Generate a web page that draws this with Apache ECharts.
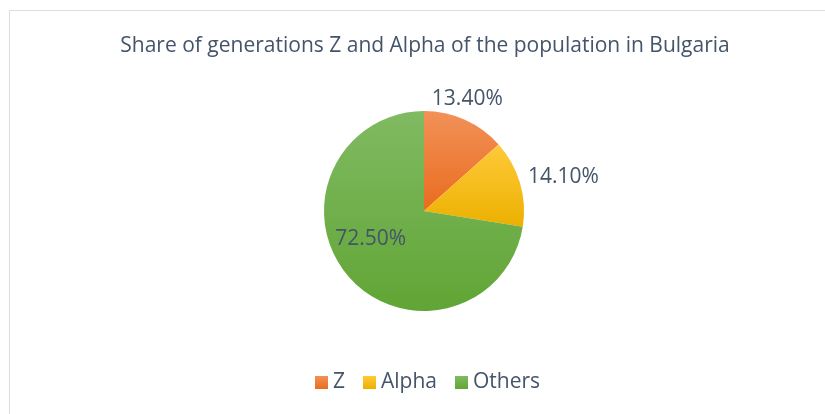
<!DOCTYPE html>
<html>
<head>
<meta charset="utf-8">
<script src="https://cdn.jsdelivr.net/npm/echarts@6/dist/echarts.min.js"></script>
<style>html,body{margin:0;padding:0;background:#fff}#c{width:825px;height:414px}</style>
</head>
<body>
<div id="c"></div>
<script>
const titleText = "Share of generations Z and Alpha of the population in Bulgaria";
const categories = ["Z", "Alpha", "Others"];
const values = [13.4, 14.1, 72.5];
const labelTexts = ["13.40%", "14.10%", "72.50%"];
const topColors = ["#F29158", "#FFCA3A", "#80BA62"];
const bottomColors = ["#E96C1F", "#ECB000", "#61A535"];

const FONT = "'Open Sans', sans-serif";
const TXT = "#44546A";

const chart = echarts.init(document.getElementById('c'), null, {renderer: 'canvas'});
const data = categories.map((n, i) => ({
  name: n,
  value: values[i],
  itemStyle: {
    color: new echarts.graphic.LinearGradient(0, 0, 0, 1, [
      {offset: 0, color: topColors[i]},
      {offset: 1, color: bottomColors[i]}
    ])
  },
  label: {position: i === 2 ? 'inside' : 'outside'}
}));

// small label nudges (styling) to mimic Excel "best fit" placement
const nudge = {0: {dx: -47, dy: -1}, 1: {dx: -18, dy: 0}, 2: {dx: -13, dy: -6}};

chart.setOption({
  animation: false,
  graphic: [{
    type: 'rect',
    shape: {x: 9.5, y: 10.5, width: 900, height: 500},
    style: {fill: 'none', stroke: '#D9DEE6', lineWidth: 1},
    silent: true
  }],
  title: {
    text: titleText,
    left: 420,
    top: 31,
    textAlign: 'center',
    textStyle: {fontFamily: FONT, fontSize: 21, fontWeight: 'normal', color: TXT}
  },
  legend: {
    data: categories,
    top: 367,
    left: 310,
    icon: 'rect',
    itemWidth: 13,
    itemHeight: 13,
    itemGap: 18,
    textStyle: {fontFamily: FONT, fontSize: 21, color: TXT}
  },
  series: [{
    type: 'pie',
    center: [424, 211],
    radius: [0, 100],
    startAngle: 90,
    clockwise: true,
    data: data,
    label: {
      show: true,
      fontFamily: FONT,
      fontSize: 21,
      color: TXT,
      formatter: p => labelTexts[p.dataIndex]
    },
    labelLine: {show: false, length: 22, length2: 0},
    labelLayout: p => nudge[p.dataIndex],
    itemStyle: {borderWidth: 0}
  }]
});
</script>
</body>
</html>
